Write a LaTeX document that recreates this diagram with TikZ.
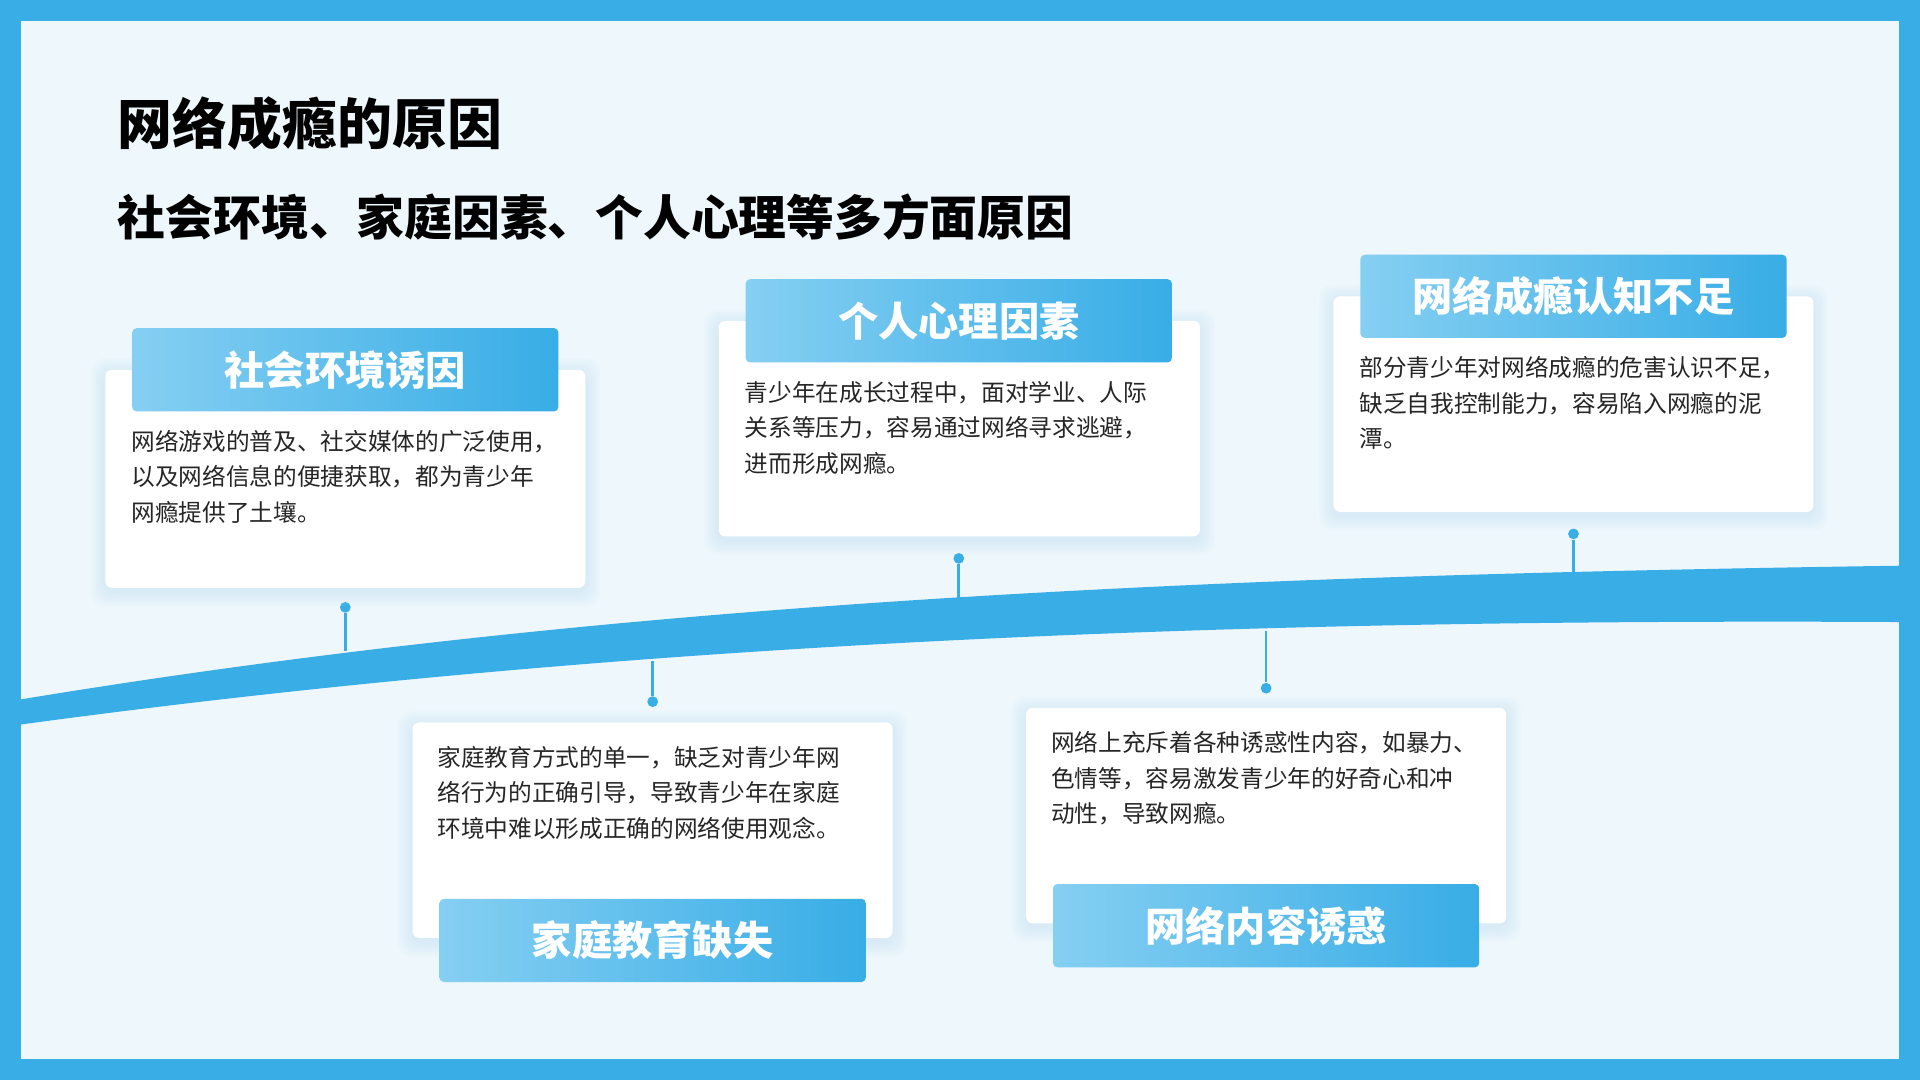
\documentclass[tikz,border=0pt]{standalone}
\usepackage{fontspec}
\setmainfont{Noto Sans CJK SC}
\definecolor{mblue}{HTML}{38ADE6}
\definecolor{lblue}{HTML}{85CFF2}
\definecolor{bg}{HTML}{EEF7FC}
\definecolor{shc}{HTML}{B9DDF2}
\tikzset{
 head/.style={left color=lblue,right color=mblue,draw=none,rounded corners=2pt,font=\fontsize{18.7}{22}\selectfont\bfseries,text=white,minimum width=348*0.02cm,minimum height=68*0.02cm},
 body/.style={anchor=north west,align=left,inner sep=0pt,font=\fontsize{11}{16.5}\selectfont,text=black!85},
 conn/.style={mblue,line width=1.2pt},
 dot/.style={circle,fill=mblue,inner sep=0pt,minimum size=5pt}
}
\newcommand{\mycard}[4]{%
 \foreach \k in {1,...,6}{\fill[shc,opacity=0.07,rounded corners=6pt] (#1-\k*2,#2-\k*2+3) rectangle (#3+\k*2,#4+\k*2+3);}
 \fill[white,rounded corners=3pt] (#1,#2) rectangle (#3,#4);}
\begin{document}
\begin{tikzpicture}[x=0.02cm,y=-0.02cm]
\useasboundingbox (0,0) rectangle (1568,882);
\fill[mblue] (0,0) rectangle (1568,882);
\fill[bg] (17,17) rectangle (1551,865);
\fill[mblue] (0,574) .. controls (500,490) and (1000,470) .. (1551,462) -- (1551,508) .. controls (1000,505) and (500,525) .. (0,594) -- cycle;
\node[anchor=west,inner sep=0pt,font=\fontsize{25.5}{30}\selectfont\bfseries] (t) at (96,101) {网络成瘾的原因};
\node[anchor=west,inner sep=0pt,font=\fontsize{22.2}{26}\selectfont\bfseries] (s) at (96,177) {社会环境、家庭因素、个人心理等多方面原因};
\node[dot] (d1) at (282,496) {}; \coordinate (b1) at (282,532); \draw[conn] (d1)--(b1);
\node[dot] (d2) at (783,456) {}; \coordinate (b2) at (783,492); \draw[conn] (d2)--(b2);
\node[dot] (d3) at (1285,436) {}; \coordinate (b3) at (1285,468); \draw[conn] (d3)--(b3);
\node[dot] (d4) at (533,573) {}; \coordinate (b4) at (533,540); \draw[conn] (d4)--(b4);
\node[dot] (d5) at (1034,562) {}; \coordinate (b5) at (1034,515); \draw[conn] (d5)--(b5);
\mycard{86}{302}{478}{480}
\mycard{587}{262}{980}{438}
\mycard{1089}{242}{1481}{418}
\mycard{337}{590}{729}{766}
\mycard{838}{578}{1230}{754}
\node[head] (h1) at (282,302) {社会环境诱因};
\node[head] (h2) at (783,262) {个人心理因素};
\node[head] (h3) at (1285,242) {网络成瘾认知不足};
\node[head] (h4) at (533,768) {家庭教育缺失};
\node[head] (h5) at (1034,756) {网络内容诱惑};
\node[body] (x1) at (107,351) {网络游戏的普及、社交媒体的广泛使用，\\以及网络信息的便捷获取，都为青少年\\网瘾提供了土壤。};
\node[body] (x2) at (608,311) {青少年在成长过程中，面对学业、人际\\关系等压力，容易通过网络寻求逃避，\\进而形成网瘾。};
\node[body] (x3) at (1110,291) {部分青少年对网络成瘾的危害认识不足，\\缺乏自我控制能力，容易陷入网瘾的泥\\潭。};
\node[body] (x4) at (357,609) {家庭教育方式的单一，缺乏对青少年网\\络行为的正确引导，导致青少年在家庭\\环境中难以形成正确的网络使用观念。};
\node[body] (x5) at (858,597) {网络上充斥着各种诱惑性内容，如暴力、\\色情等，容易激发青少年的好奇心和冲\\动性，导致网瘾。};
\end{tikzpicture}
\end{document}
